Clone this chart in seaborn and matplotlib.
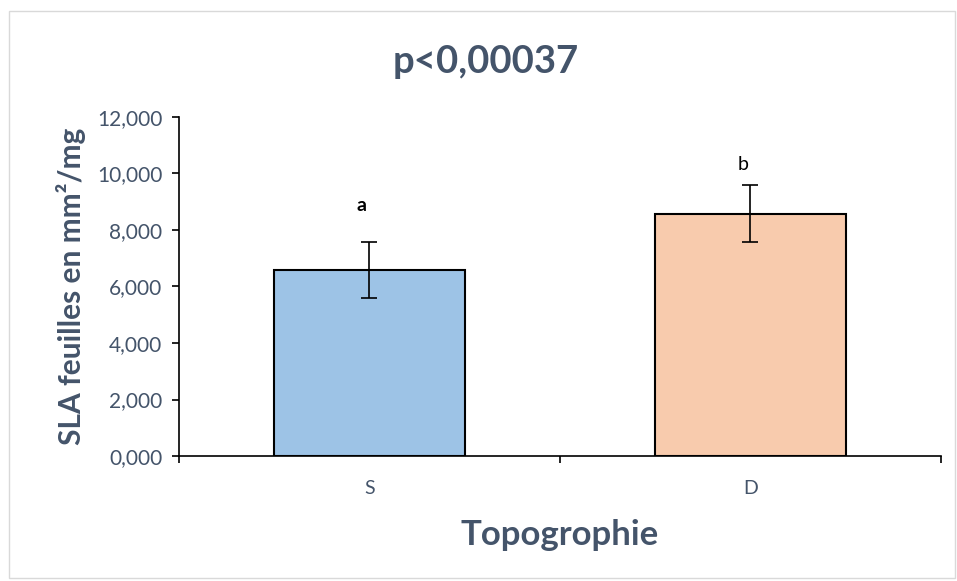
import pandas as pd
import matplotlib.pyplot as plt
import seaborn as sns
from matplotlib.patches import Rectangle

# Données
categories = ["S", "D"]
sla_moyenne = [6.58, 8.57]
sla_erreur = [1.0, 1.0]
lettres = ["a", "b"]
lettres_gras = [True, False]
couleurs = ["#9DC3E6", "#F8CBAD"]
y_ticks = [0, 2, 4, 6, 8, 10, 12]

df = pd.DataFrame({"Topo": categories, "SLA": sla_moyenne})

sns.set_theme(style="white")
plt.rcParams['font.family'] = ['Lato', 'DejaVu Sans']
texte = "#44546A"

fig = plt.figure(figsize=(9.57, 5.81), dpi=100)
ax = fig.add_axes([0.187, 0.215, 0.796, 0.584])

# cadre extérieur gris clair
fig.patches.append(Rectangle((9 / 957, 3 / 581), 946 / 957, 567 / 581, transform=fig.transFigure,
                             fill=False, edgecolor="#D9D9D9", linewidth=1))

sns.barplot(ax=ax, data=df, x="Topo", y="SLA", hue="Topo", palette=couleurs, legend=False,
            errorbar=None, width=0.5, edgecolor="black", linewidth=1.5, saturation=1)
ax.errorbar(range(len(categories)), sla_moyenne, yerr=sla_erreur, fmt="none",
            ecolor="black", elinewidth=1.2, capsize=6, capthick=1.2)

decalage = [1.3, 0.75]
for i, (v, e, l, g) in enumerate(zip(sla_moyenne, sla_erreur, lettres, lettres_gras)):
    ax.text(i - 0.02, v + e + decalage[i], l, ha="center", va="center", fontsize=14,
            fontweight="bold" if g else "normal", color="black")

ax.set_xlim(-0.5, 1.5)
ax.set_ylim(0, 12)
ax.set_yticks(y_ticks)
ax.set_yticklabels([f"{t:.3f}".replace(".", ",") for t in y_ticks], color=texte, fontsize=15)
ax.set_xticks([0, 1])
ax.set_xticklabels(categories, color=texte, fontsize=14)
ax.set_xticks([-0.5, 0.5, 1.5], minor=True)
ax.tick_params(axis="x", which="major", length=0, pad=17)
ax.tick_params(axis="x", which="minor", length=5, width=1.2, direction="out", color="black")
ax.tick_params(axis="y", length=5, width=1.2, direction="out", color="black", pad=7)
ax.yaxis.set_ticks_position("left")
ax.xaxis.set_ticks_position("bottom")

for s in ["top", "right"]:
    ax.spines[s].set_visible(False)
for s in ["left", "bottom"]:
    ax.spines[s].set_color("black")
    ax.spines[s].set_linewidth(1.2)

ax.set_xlabel("Topogrophie", fontsize=25, fontweight="bold", color=texte, labelpad=16)
ax.set_ylabel("SLA feuilles en mm²/mg", fontsize=21.5, fontweight="bold", color=texte, labelpad=8)
fig.text(0.507, 0.893, "p<0,00037", ha="center", va="center", fontsize=27.5, fontweight="bold", color=texte)

fig.savefig("out.png", dpi=100)
